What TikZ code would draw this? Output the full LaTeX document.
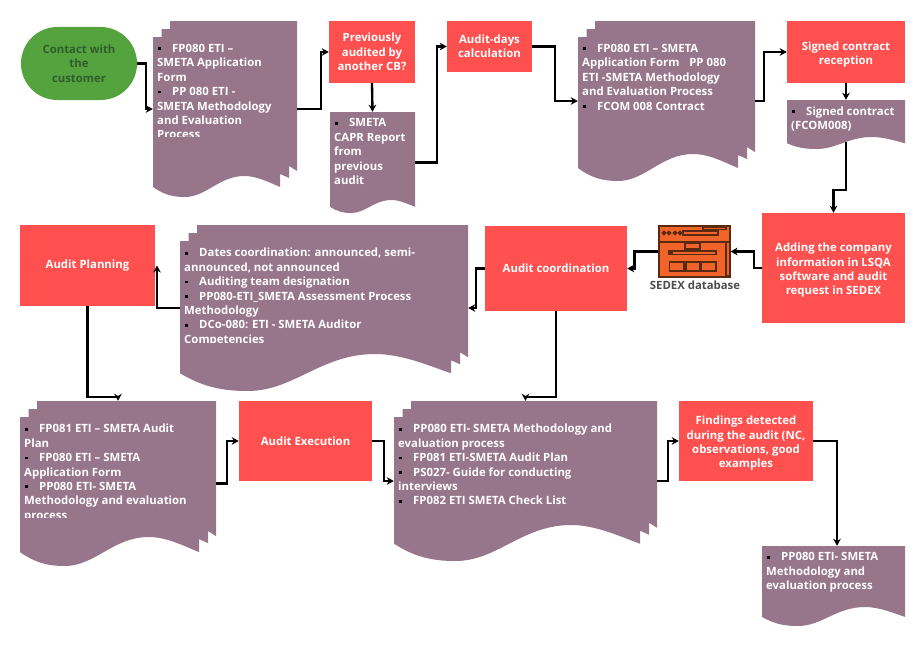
\documentclass[tikz,border=0pt]{standalone}
\usepackage{fontspec}
\setmainfont{Open Sans}
\usetikzlibrary{arrows.meta}
\definecolor{docpurple}{HTML}{97758B}
\definecolor{boxred}{HTML}{FF5050}
\definecolor{startgreen}{HTML}{55A33F}
\definecolor{startink}{HTML}{2E5E2A}
\definecolor{iconfill}{HTML}{F0642A}
\definecolor{iconline}{HTML}{5A2A10}
\tikzset{
  redbox/.style={fill=boxred, text=white, font=\fontsize{9.7}{12.28}\selectfont\bfseries, align=center, inner sep=0pt},
  doctext/.style={anchor=north west, text=white, font=\fontsize{9.7}{12.28}\selectfont\bfseries, align=left, inner sep=0pt},
  docslot/.style={inner sep=0pt},
  link/.style={line width=2pt, -{Stealth[length=6pt,width=6.5pt]}},
  iconpart/.style={draw=iconline, line width=0.9pt, fill=iconfill}
}
\newcommand{\bul}{\makebox[12.8pt][l]{\hspace{0.8pt}\textcolor{black}{\rule[.2em]{2.4pt}{2.4pt}}}}
\newcommand{\lift}{\rule{0pt}{11.5pt}}
% sizes of the wavy lower edge: x1, y2, x right end, wave
\newcommand{\setwave}[4]{%
  \pgfmathsetmacro\wavew{#3-#1}
  \pgfmathsetmacro\wavee{#2-0.48*#4}
  \pgfmathsetmacro\wavep{#2-#4}
}
% the edge itself, from the left end to the right end
\newcommand{\docwave}[4]{%
  (#1,\wavee) .. controls ({#1+0.08*\wavew},{\wavee+0.35*#4}) and ({#1+0.15*\wavew},#2) .. ({#1+0.25*\wavew},#2)
  .. controls ({#1+0.42*\wavew},#2) and ({#1+0.52*\wavew},\wavep) .. ({#1+0.72*\wavew},\wavep)
  .. controls ({#1+0.82*\wavew},\wavep) and ({#1+0.92*\wavew},{\wavee-0.2*#4}) .. (#3,\wavee)
}
% name, x1, y1, x2, y2, wave, clip y, text
\newcommand{\stackdoc}[8]{%
  \pgfmathsetmacro\wavex{#4-17}
  \setwave{#2}{#5}{\wavex}{#6}
  \fill[docpurple] \docwave{#2}{#5}{\wavex}{#6}
    -- (\wavex,\wavee-13) -- (#4-8,\wavee-9) -- (#4-8,\wavee-21) -- (#4,\wavee-16)
    -- (#4,#3) -- (#2+17,#3) -- (#2+17,#3+8) -- (#2+8.5,#3+8) -- (#2+8.5,#3+16) -- (#2,#3+16) -- cycle;
  \begin{scope}
    \clip (#2,#3) rectangle (#4,#7);
    \node[doctext] (#1text) at (#2+4,#3+23) {#8};
  \end{scope}
  \pgfmathsetmacro\slotw{(#4-#2)*0.03}
  \pgfmathsetmacro\sloth{(#5-#3)*0.03}
  \node[docslot, minimum width=\slotw cm, minimum height=\sloth cm] (#1) at ({(#2+#4)/2},{(#3+#5)/2}) {};
}
% name, x1, y1, x2, y2, wave, text
\newcommand{\plaindoc}[7]{%
  \setwave{#2}{#5}{#4}{#6}
  \fill[docpurple] \docwave{#2}{#5}{#4}{#6} -- (#4,#3) -- (#2,#3) -- cycle;
  \node[doctext] (#1text) at (#2+4,#3+6.5) {#7};
  \pgfmathsetmacro\slotw{(#4-#2)*0.03}
  \pgfmathsetmacro\sloth{(#5-#3)*0.03}
  \node[docslot, minimum width=\slotw cm, minimum height=\sloth cm] (#1) at ({(#2+#4)/2},{(#3+#5)/2}) {};
}
\begin{document}
\begin{tikzpicture}[x=0.03cm,y=-0.03cm]
  \useasboundingbox (0,0) rectangle (922,645);
  % top row
  \node[fill=startgreen, text=startink, font=\fontsize{9.7}{12.28}\selectfont\bfseries, align=center, inner sep=0pt,
        rounded corners=1.09cm, minimum width=3.48cm, minimum height=2.19cm] (contact) at (79,63.5) {Contact with\\the\\customer};
  \stackdoc{doca}{153}{21}{297}{197}{21}{136.5}{\bul FP080 ETI –\\SMETA Application\\Form\\\bul PP 080 ETI -\\SMETA Methodology\\and Evaluation\\Process}
  \node[redbox, minimum width=2.58cm, minimum height=1.86cm] (prevaud) at (372,52) {Previously\\audited by\\another CB?};
  \plaindoc{docb}{330}{112}{415}{213}{13}{\bul SMETA\\CAPR Report\\from\\previous\\audit}
  \node[redbox, minimum width=2.55cm, minimum height=1.53cm] (daycalc) at (489.5,46.5) {Audit-days\\calculation};
  \stackdoc{docc}{578}{21}{755}{181}{27}{180}{\bul FP080 ETI – SMETA\\Application Form\hspace{0.6em} PP 080\\ETI -SMETA Methodology\\and Evaluation Process\\\bul FCOM 008 Contract}
  \node[redbox, minimum width=3.54cm, minimum height=1.86cm] (signrec) at (846,52) {\lift Signed contract\\reception};
  \plaindoc{signdoc}{787}{100}{905}{149}{12}{\bul Signed contract\\(FCOM008)}
  % middle row
  \node[redbox, minimum width=4.29cm, minimum height=3.3cm] (adding) at (833.5,268) {\lift Adding the company\\information in LSQA\\software and audit\\request in SEDEX};
  \node[iconpart, minimum width=2.13cm, minimum height=1.53cm, inner sep=0pt] (sedex) at (694.5,251.5) {};
  \draw[iconline, line width=0.9pt] (659,242) -- (730,242);
  \draw[iconpart] (683,231) rectangle (718,235);
  \draw[iconpart] (703,227.5) rectangle (726,229.5);
  \foreach \iconx in {664,669,675,680}
    \draw[iconpart, fill=iconline] (\iconx,233) circle (1.8);
  \draw[iconpart] (726,242) rectangle (729.5,276);
  \draw[iconpart] (685,243.5) rectangle (700,249);
  \draw[iconpart] (669,251) rectangle (716,254.5);
  \fill[iconline] (669,251) rectangle (673,254.5);
  \draw[iconpart] (669.5,262) rectangle (684,271);
  \draw[iconpart] (686,262) rectangle (700,271);
  \draw[iconpart] (701.5,262) rectangle (716,271);
  \node[text=black!70, font=\fontsize{9.7}{12.28}\selectfont\bfseries, inner sep=0pt] (sedexname) at (695,285.5) {SEDEX database};
  \node[redbox, minimum width=4.26cm, minimum height=2.55cm] (audcoord) at (556,268.5) {Audit coordination};
  \stackdoc{docd}{180}{225}{468}{391}{37}{342}{\bul Dates coordination: announced, semi-\\announced, not announced\\\bul Auditing team designation\\\bul PP080-ETI\_SMETA Assessment Process\\Methodology\\\bul DCo-080: ETI - SMETA Auditor\\Competencies}
  \node[redbox, minimum width=4.05cm, minimum height=2.43cm] (audplan) at (87.5,265.5) {Audit Planning};
  % bottom row
  \stackdoc{doce}{20}{401}{216}{566}{29}{517}{\bul FP081 ETI – SMETA Audit\\Plan\\\bul FP080 ETI – SMETA\\Application Form\\\bul PP080 ETI- SMETA\\Methodology and evaluation\\process}
  \node[redbox, minimum width=3.99cm, minimum height=2.4cm] (audexec) at (305.5,441) {Audit Execution};
  \stackdoc{docf}{394}{401}{657}{561}{36}{560}{\bul PP080 ETI- SMETA Methodology and\\evaluation process\\\bul FP081 ETI-SMETA Audit Plan\\\bul PS027- Guide for conducting\\interviews\\\bul FP082 ETI SMETA Check List}
  \node[redbox, minimum width=4.02cm, minimum height=2.4cm] (findings) at (746,441) {\lift Findings detected\\during the audit (NC,\\observations, good\\examples};
  \plaindoc{lastdoc}{762}{546}{905}{626}{19}{\bul PP080 ETI- SMETA\\Methodology and\\evaluation process}
  % connectors
  \draw[link] (contact.east) -- ++(9,0) |- (doca.west);
  \draw[link] (doca.east) -- ++(24,0) |- (prevaud.west);
  \draw[link] (prevaud.south) -- (docb.north);
  \draw[link] (docb.east) -- ++(22,0) |- (daycalc.west);
  \draw[link] (daycalc.east) -- ++(23,0) |- (docc.west);
  \draw[link] (docc.east) -- ++(9,0) |- (signrec.west);
  \draw[link] (signrec.south) -- (signdoc.north);
  \draw[link] (signdoc.south) ++(0,-7) -- ++(0,48) -| (adding.north);
  \draw[link] (adding.west) -- ++(-8,0) |- (sedex.east);
  \draw[link] (sedex.west) -- ++(-24,0) |- (audcoord.east);
  \draw[link] (audcoord.west) -- ++(-9,0) |- (docd.east);
  \draw[link] (docd.west) -| ([xshift=1.5pt]audplan.east);
  \draw[link] (audplan.south) -- ++(0,91) -| (doce.north);
  \draw[link] (audcoord.south) -- ++(0,86) -| (docf.north);
  \draw[link] (doce.east) -- ++(11,0) |- (audexec.west);
  \draw[link] (audexec.east) -- ++(12,0) |- (docf.west);
  \draw[link] (docf.east) -- ++(11,0) |- (findings.west);
  \draw[link] (findings.east) -| ([xshift=3pt]lastdoc.north);
\end{tikzpicture}
\end{document}
